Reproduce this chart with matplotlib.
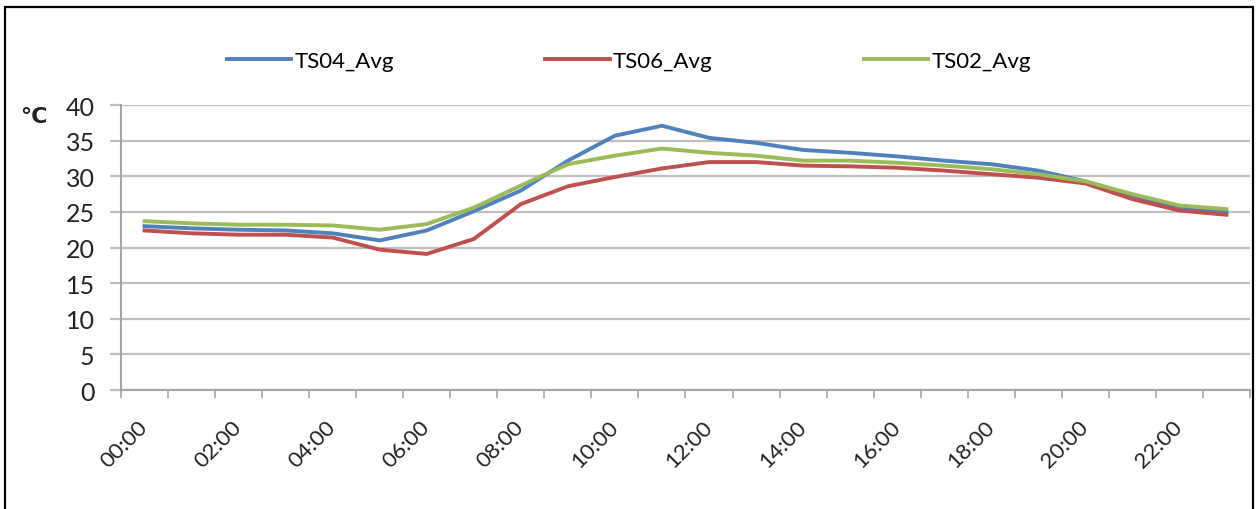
import numpy as np
import matplotlib.pyplot as plt
from matplotlib.patches import Rectangle

plt.rcParams['font.family'] = ['Lato', 'DejaVu Sans']

# Dados (leitura do gráfico)
horas = ["%02d:00" % h for h in range(24)]
ts04 = [23.0, 22.7, 22.5, 22.4, 22.0, 21.0, 22.4, 25.1, 28.0, 32.2, 35.7, 37.1,
        35.4, 34.7, 33.7, 33.3, 32.8, 32.2, 31.7, 30.8, 29.3, 27.3, 25.6, 25.0]
ts06 = [22.4, 22.0, 21.8, 21.8, 21.4, 19.7, 19.1, 21.2, 26.1, 28.6, 29.9, 31.1,
        32.0, 32.0, 31.5, 31.4, 31.2, 30.8, 30.3, 29.8, 29.0, 26.8, 25.2, 24.6]
ts02 = [23.7, 23.4, 23.2, 23.2, 23.1, 22.5, 23.3, 25.6, 28.7, 31.7, 32.9, 33.9,
        33.3, 32.9, 32.2, 32.2, 31.9, 31.5, 31.0, 30.3, 29.3, 27.5, 25.9, 25.4]
series = [("TS04_Avg", ts04, "#4F81BD"),
          ("TS06_Avg", ts06, "#C0504D"),
          ("TS02_Avg", ts02, "#9BBB59")]

fig = plt.figure(figsize=(12.58, 5.10), dpi=100)
ax = fig.add_axes([0.0962, 0.2333, 0.8974, 0.5587])

x = np.arange(len(horas))
for nome, vals, cor in series:
    ax.plot(x, vals, color=cor, lw=2.8, label=nome, solid_joinstyle='round')

ax.set_xlim(-0.5, len(horas) - 0.5)
ax.set_ylim(0, 40)
ax.set_yticks(range(0, 41, 5))
ax.grid(axis='y', color='#BFBFBF', lw=1.6)
ax.set_axisbelow(True)

# ticks entre categorias, rótulos no centro
ax.set_xticks(np.arange(-0.5, len(horas), 1))
ax.set_xticklabels([])
ax.set_xticks(x[::2], minor=True)
ax.set_xticklabels(horas[::2], minor=True, rotation=45, ha='right',
                   va='center', rotation_mode='anchor', fontsize=16, color='#222222')
ax.tick_params(axis='x', which='major', direction='out', length=6, width=1.2, color='#A6A6A6')
ax.tick_params(axis='x', which='minor', length=0, pad=24)
ax.tick_params(axis='y', direction='out', length=8, width=1.6, color='#BFBFBF',
               labelsize=18, labelcolor='#222222', pad=11)

for s in ['top', 'right']:
    ax.spines[s].set_visible(False)
ax.spines['left'].set_color('#A6A6A6')
ax.spines['bottom'].set_color('#A6A6A6')
ax.spines['left'].set_linewidth(1.5)
ax.spines['bottom'].set_linewidth(1.5)

fig.text(20 / 1258, 1 - 117 / 510, "°C", fontsize=16, fontweight='bold',
         family='DejaVu Sans', va='center', ha='left', color='#222222')

fig.legend(loc='center', bbox_to_anchor=(0.5, 1 - 62 / 510), ncol=3, frameon=False,
           fontsize=16, handlelength=2.9, handletextpad=0.15, columnspacing=6.8)

fig.add_artist(Rectangle((5 / 1258, -0.1), 1248 / 1258, 1.1 - 8 / 510,
                         transform=fig.transFigure, fill=False, ec='black', lw=1.6))

plt.savefig("out.png", dpi=100)
